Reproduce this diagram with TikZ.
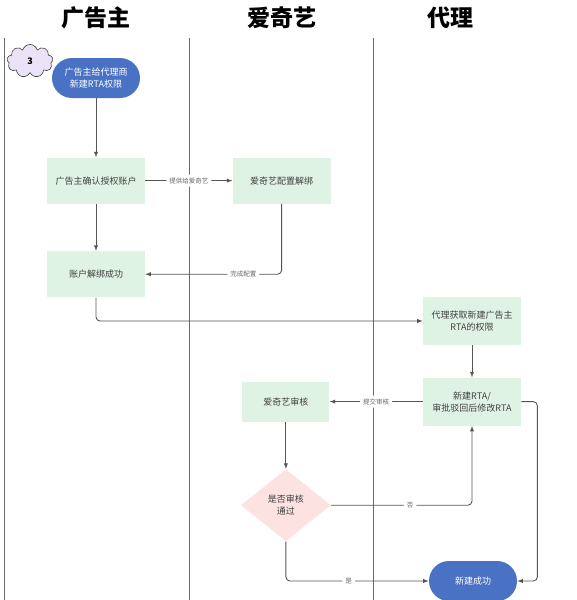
\documentclass[tikz,border=0pt]{standalone}
\usepackage{fontspec}
\setmainfont{Noto Sans CJK SC}
\usetikzlibrary{arrows}
\usetikzlibrary{positioning}
\usetikzlibrary{shapes.geometric, shapes.symbols}
\definecolor{laneline}{RGB}{105,105,105}
\definecolor{flowgray}{RGB}{85,85,85}
\definecolor{taskgreen}{RGB}{223,243,228}
\definecolor{startblue}{RGB}{74,114,196}
\definecolor{checkpink}{RGB}{253,226,226}
\definecolor{cloudlilac}{RGB}{234,226,246}

\begin{document}
\begin{tikzpicture}[x=1pt, y=-1pt, -latex, semithick, draw=flowgray,
    task/.style={rectangle, fill=taskgreen, text=black!75, font=\fontsize{9}{12}\selectfont,
    minimum width=98pt, minimum height=46pt, align=center, inner sep=2pt},
    terminal/.style={rectangle, rounded corners=20pt, fill=startblue, text=white,
    font=\fontsize{9}{12}\selectfont, minimum width=88pt, minimum height=40pt, align=center},
    check/.style={diamond, fill=checkpink, text=black!75, font=\fontsize{9}{12}\selectfont,
    aspect=1.25, minimum width=90pt, minimum height=72pt, inner sep=0pt, align=center},
    lane/.style={-, draw=laneline, line width=0.9pt},
    lanetitle/.style={font=\fontsize{23}{26}\selectfont\bfseries},
    flow/.style={draw=flowgray, line width=0.9pt, rounded corners=4pt},
    tag/.style={fill=white, text=black!60, font=\fontsize{6.5}{8}\selectfont, inner sep=3pt}]

    \useasboundingbox (0,0) rectangle (576,600);

    % lanes
    \node[lanetitle] (T1) at (96,18) {广告主};
    \node[lanetitle] (T2) at (282,18) {爱奇艺};
    \node[lanetitle] (T3) at (450,18) {代理};
    \draw[lane] (4,38) -- (4,600);
    \draw[lane] (189,38) -- (189,600);
    \draw[lane] (373,38) -- (373,600);

    % nodes
    \node[cloud, cloud puffs=9, aspect=1.5, draw=black!75, fill=cloudlilac, minimum width=46pt,
      minimum height=33pt, inner sep=0pt, font=\fontsize{9}{10}\selectfont\bfseries] (C3) at (30,61) {3};
    \node[terminal] (S) at (96,78) {广告主给代理商\\新建RTA权限};
    \node[task] (A1) [below=59pt of S] {广告主确认授权账户};
    \node[task] (Q1) [right=87pt of A1] {爱奇艺配置解绑};
    \node[task] (A2) [below=47pt of A1] {账户解绑成功};
    \node[task, minimum height=48pt] (D1) at (472,321) {代理获取新建广告主\\RTA的权限};
    \node[task, minimum height=48pt] (D2) [below=32pt of D1] {新建RTA/\\审批驳回后修改RTA};
    \node[task, minimum width=87pt, minimum height=40pt] (Q2) [left=93pt of D2] {爱奇艺审核};
    \node[check] (K) [below=47pt of Q2] {是否审核\\通过};
    \node[terminal, minimum width=88pt] (E) at (473,581) {新建成功};

    % connectors
    \path[flow] (S) edge (A1);
    \path[flow] (A1) edge node[tag] {提供给爱奇艺} (Q1);
    \path[flow] (A1) edge (A2);
    \draw[flow] (Q1.south) |- node[tag, pos=0.64] {完成配置} (A2.east);
    \draw[flow] (A2.south) |- (D1.west);
    \path[flow] (D1) edge (D2);
    \path[flow] (D2) edge node[tag] {提交审核} (Q2);
    \path[flow] (Q2) edge (K);
    \draw[flow] (K.east) -| node[tag, pos=0.28] {否} (D2.south);
    \draw[flow] (K.south) |- node[tag, pos=0.72] {是} (E.west);
    \draw[flow] (D2.east) -- ++(16pt,0pt) |- (E.east);
  \end{tikzpicture}
\end{document}
